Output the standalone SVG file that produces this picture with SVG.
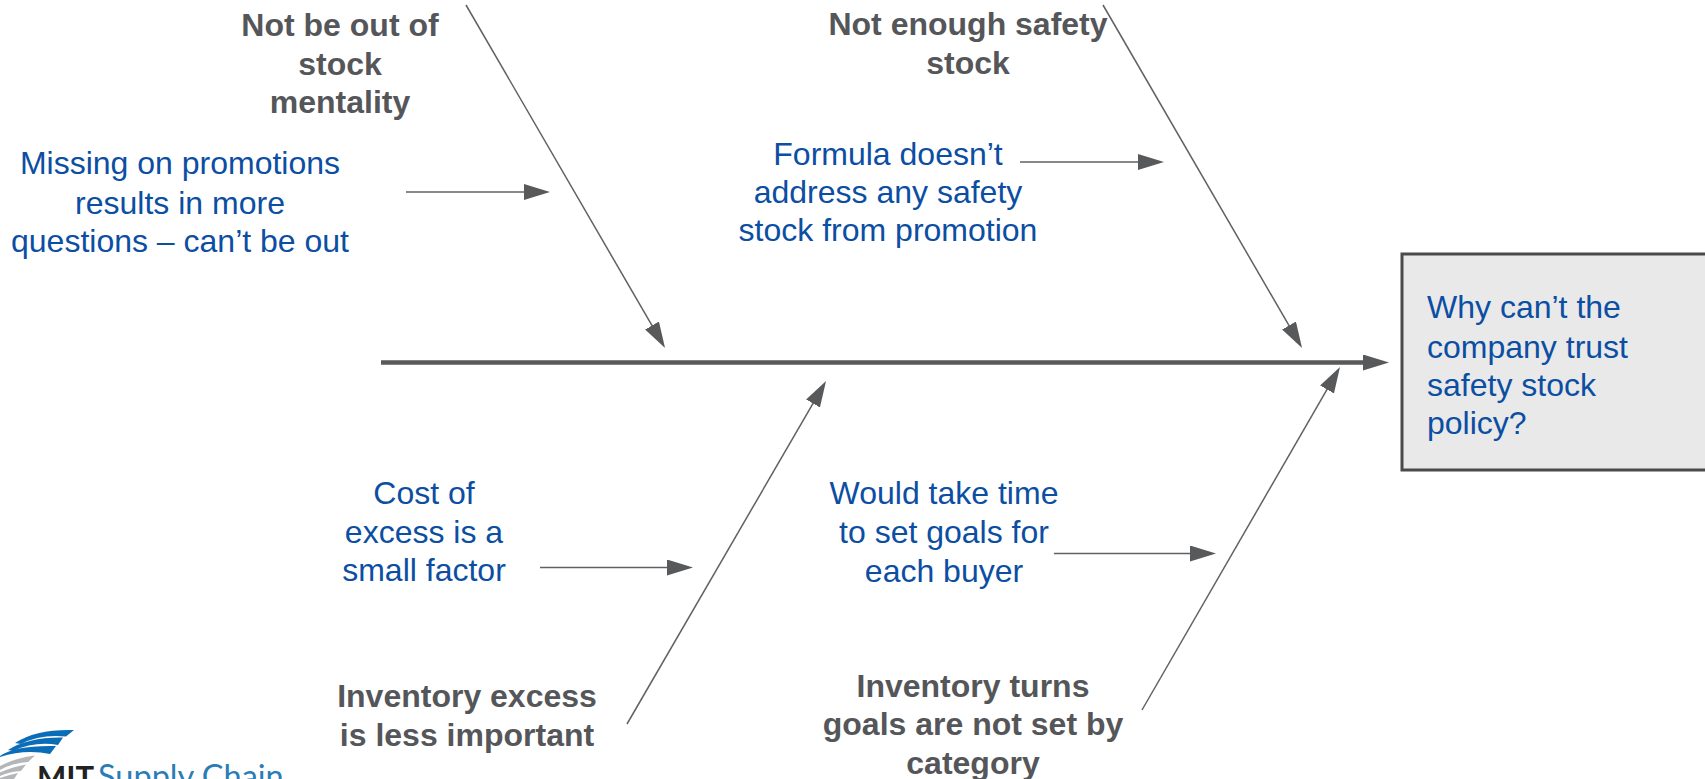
<svg xmlns="http://www.w3.org/2000/svg" width="1705" height="779" viewBox="0 0 1705 779">
<style>
.t{font-family:"Liberation Sans",Arial,sans-serif;font-size:32px;text-anchor:middle}
.s{text-anchor:start}
.b{fill:#0b4ea2}
.h{fill:#555659;font-weight:bold}
.l{fill:none;stroke:#606164;stroke-width:1.5}
.sb{fill:#0b6cb8}
.sg{fill:#b4b6b8}
</style>
<defs>
<marker id="a" markerUnits="userSpaceOnUse" markerWidth="28" markerHeight="18" refX="1" refY="8" orient="auto"><path d="M0 0L26 8L0 16Z" fill="#58595b"/></marker>
</defs>
<rect width="1705" height="779" fill="#fff"/>
<g id="connectors">
<line x1="381" y1="362.500" x2="1364" y2="362.500" stroke="#58595b" stroke-width="4.5" marker-end="url(#a)"/>
<line class="l" x1="466" y1="5" x2="652.5" y2="326.4" marker-end="url(#a)"/>
<line class="l" x1="1103" y1="5" x2="1289.5" y2="326.4" marker-end="url(#a)"/>
<line class="l" x1="627" y1="724" x2="813.5" y2="402.6" marker-end="url(#a)"/>
<line class="l" x1="1142" y1="710" x2="1327.5" y2="388.6" marker-end="url(#a)"/>
<line class="l" x1="406" y1="192" x2="525" y2="192" marker-end="url(#a)"/>
<line class="l" x1="1020" y1="162" x2="1139" y2="162" marker-end="url(#a)"/>
<line class="l" x1="540" y1="567.5" x2="668" y2="567.5" marker-end="url(#a)"/>
<line class="l" x1="1054" y1="553.5" x2="1191" y2="553.5" marker-end="url(#a)"/>
</g>
<g id="node-root">
<rect x="1402" y="254" width="310" height="216" fill="#e9e9ea" stroke="#4a4a4a" stroke-width="3"/>
<text class="t b s"><tspan x="1427" y="318">Why can’t the</tspan><tspan x="1427" y="358">company trust</tspan><tspan x="1427" y="396">safety stock</tspan><tspan x="1427" y="434">policy?</tspan></text>
</g>
<g id="node-not-out"><text class="t h"><tspan x="340" y="36">Not be out of</tspan><tspan x="340" y="75">stock</tspan><tspan x="340" y="113">mentality</tspan></text></g>
<g id="node-missing"><text class="t b"><tspan x="180" y="174">Missing on promotions</tspan><tspan x="180" y="214">results in more</tspan><tspan x="180" y="252">questions – can’t be out</tspan></text></g>
<g id="node-not-enough"><text class="t h"><tspan x="968" y="35">Not enough safety</tspan><tspan x="968" y="74">stock</tspan></text></g>
<g id="node-formula"><text class="t b"><tspan x="888" y="165">Formula doesn’t</tspan><tspan x="888" y="203">address any safety</tspan><tspan x="888" y="241">stock from promotion</tspan></text></g>
<g id="node-cost"><text class="t b"><tspan x="424" y="504">Cost of</tspan><tspan x="424" y="543">excess is a</tspan><tspan x="424" y="581">small factor</tspan></text></g>
<g id="node-would"><text class="t b"><tspan x="944" y="504">Would take time</tspan><tspan x="944" y="543">to set goals for</tspan><tspan x="944" y="582">each buyer</tspan></text></g>
<g id="node-excess"><text class="t h"><tspan x="467" y="707">Inventory excess</tspan><tspan x="467" y="746">is less important</tspan></text></g>
<g id="node-turns"><text class="t h"><tspan x="973" y="697">Inventory turns</tspan><tspan x="973" y="735">goals are not set by</tspan><tspan x="973" y="774">category</tspan></text></g>
<g id="logo">
<path class="sb" d="M15 743Q36 729 74 730L66 736.500Q40 734 21 744Z"/>
<path class="sb" d="M8 750Q28 737 63 737.500L58 745Q35 741 13 751Z"/>
<path class="sb" d="M0 756Q15 745 56 746L50 754Q25 749 0 757Z"/>
<path class="sg" d="M0 766Q15 758 35 755.500L28 762Q12 763 0 770Z"/>
<path class="sg" d="M0 772.500Q12 767 26 764.500L21 771Q10 771.500 0 776Z"/>
<path class="sg" d="M0 778Q8 775 18 773L14 779H0Z"/>
<text x="37" y="788" font-family="Lato,sans-serif" font-size="31" font-weight="bold" fill="#222">MIT</text>
<text x="98" y="788" font-family="Lato,sans-serif" font-size="32.500" fill="#2a7db5">Supply Chain</text>
</g>
</svg>
